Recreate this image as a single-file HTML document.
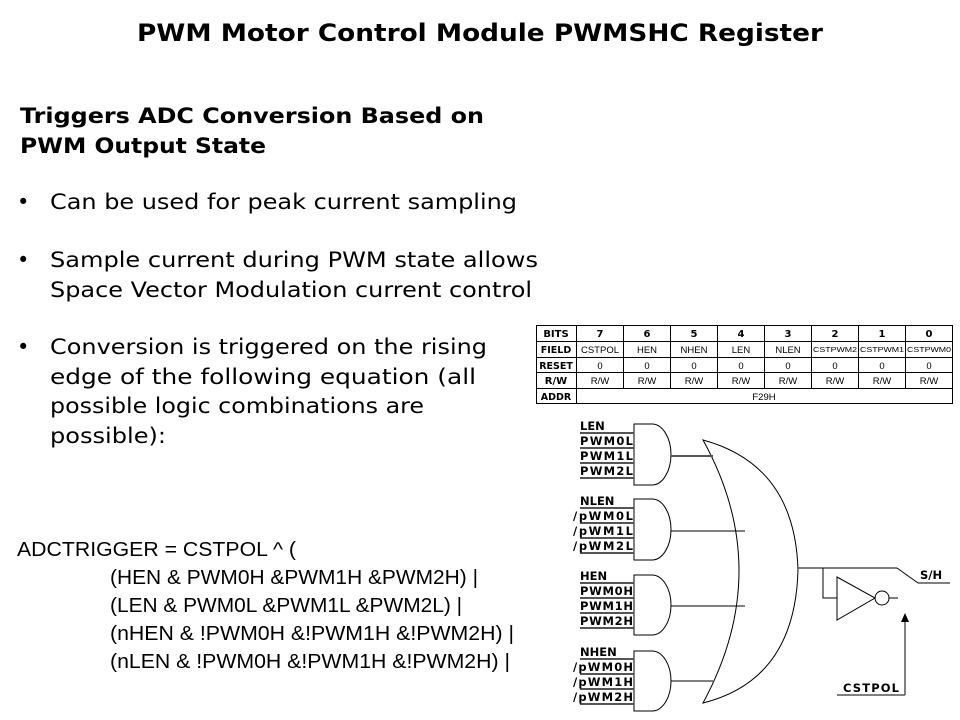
<!DOCTYPE html>
<html><head><meta charset="utf-8"><style>
html,body{margin:0;padding:0;background:#fff;}
svg{display:block;}
text{font-family:"DejaVu Sans","Liberation Sans",sans-serif;fill:#000;}
.l{font-family:"Liberation Sans",sans-serif;}
.b{font-weight:bold;}
</style></head><body>
<svg width="960" height="720" viewBox="0 0 960 720" xmlns="http://www.w3.org/2000/svg">
<text x="137" y="41" class="b" font-size="24" textLength="686" lengthAdjust="spacingAndGlyphs">PWM Motor Control Module PWMSHC Register</text>
<text x="20" y="123" class="b" font-size="21" textLength="464" lengthAdjust="spacingAndGlyphs">Triggers ADC Conversion Based on</text>
<text x="20" y="153" class="b" font-size="21" textLength="246" lengthAdjust="spacingAndGlyphs">PWM Output State</text>
<g font-size="21">
<text x="17" y="209">•</text>
<text x="50" y="209" textLength="467" lengthAdjust="spacingAndGlyphs">Can be used for peak current sampling</text>
<text x="17" y="267">•</text>
<text x="50" y="267" textLength="488" lengthAdjust="spacingAndGlyphs">Sample current during PWM state allows</text>
<text x="50" y="297" textLength="482" lengthAdjust="spacingAndGlyphs">Space Vector Modulation current control</text>
<text x="17" y="354">•</text>
<text x="50" y="354" textLength="437" lengthAdjust="spacingAndGlyphs">Conversion is triggered on the rising</text>
<text x="50" y="384" textLength="426" lengthAdjust="spacingAndGlyphs">edge of the following equation (all</text>
<text x="50" y="413" textLength="374" lengthAdjust="spacingAndGlyphs">possible logic combinations are</text>
<text x="50" y="443" textLength="116" lengthAdjust="spacingAndGlyphs">possible):</text>
</g>
<g font-size="20" class="l">
<text class="l" x="17" y="556" textLength="279" lengthAdjust="spacingAndGlyphs">ADCTRIGGER = CSTPOL ^ (</text>
<text class="l" x="110" y="584" textLength="368" lengthAdjust="spacingAndGlyphs">(HEN &amp; PWM0H &amp;PWM1H &amp;PWM2H) |</text>
<text class="l" x="110" y="612" textLength="352" lengthAdjust="spacingAndGlyphs">(LEN &amp; PWM0L &amp;PWM1L &amp;PWM2L) |</text>
<text class="l" x="110" y="640" textLength="404" lengthAdjust="spacingAndGlyphs">(nHEN &amp; !PWM0H &amp;!PWM1H &amp;!PWM2H) |</text>
<text class="l" x="110" y="668" textLength="400" lengthAdjust="spacingAndGlyphs">(nLEN &amp; !PWM0H &amp;!PWM1H &amp;!PWM2H) |</text>
</g>
<!-- register table -->
<g stroke="#000" stroke-width="1" fill="none">
<rect x="536.5" y="325.5" width="416" height="78"/>
<line x1="576.5" y1="325" x2="576.5" y2="404"/>
<line x1="536" y1="341.5" x2="952" y2="341.5"/>
<line x1="536" y1="357.5" x2="952" y2="357.5"/>
<line x1="536" y1="372.5" x2="952" y2="372.5"/>
<line x1="536" y1="388.5" x2="952" y2="388.5"/>
<line x1="623.5" y1="325" x2="623.5" y2="388"/>
<line x1="670.5" y1="325" x2="670.5" y2="388"/>
<line x1="717.5" y1="325" x2="717.5" y2="388"/>
<line x1="764.5" y1="325" x2="764.5" y2="388"/>
<line x1="811.5" y1="325" x2="811.5" y2="388"/>
<line x1="858.5" y1="325" x2="858.5" y2="388"/>
<line x1="905.5" y1="325" x2="905.5" y2="388"/>
</g>
<g font-size="10" text-anchor="middle">
<text x="556" y="337" class="b">BITS</text>
<text x="556" y="353" class="b" font-size="9.5">FIELD</text>
<text x="556" y="369" class="b" font-size="9.5">RESET</text>
<text x="556" y="384" class="b">R/W</text>
<text x="556" y="400" class="b" font-size="9.5">ADDR</text>
<g class="b"><text x="600" y="337">7</text><text x="647" y="337">6</text><text x="694" y="337">5</text><text x="741" y="337">4</text><text x="788" y="337">3</text><text x="835" y="337">2</text><text x="882" y="337">1</text><text x="929" y="337">0</text></g>
<g class="l">
<text class="l" x="600" y="353" font-size="9.5">CSTPOL</text><text class="l" x="647" y="353" font-size="9.5">HEN</text><text class="l" x="694" y="353" font-size="9.5">NHEN</text><text class="l" x="741" y="353" font-size="9.5">LEN</text><text class="l" x="788" y="353" font-size="9.5">NLEN</text>
<text class="l" x="835" y="352" font-size="7.5" textLength="44" lengthAdjust="spacingAndGlyphs">CSTPWM2</text><text class="l" x="882" y="352" font-size="7.5" textLength="44" lengthAdjust="spacingAndGlyphs">CSTPWM1</text><text class="l" x="929" y="352" font-size="7.5" textLength="44" lengthAdjust="spacingAndGlyphs">CSTPWM0</text>
</g>
<g font-size="9.5"><text class="l" x="600" y="369">0</text><text class="l" x="647" y="369">0</text><text class="l" x="694" y="369">0</text><text class="l" x="741" y="369">0</text><text class="l" x="788" y="369">0</text><text class="l" x="835" y="369">0</text><text class="l" x="882" y="369">0</text><text class="l" x="929" y="369">0</text>
<text class="l" x="600" y="384">R/W</text><text class="l" x="647" y="384">R/W</text><text class="l" x="694" y="384">R/W</text><text class="l" x="741" y="384">R/W</text><text class="l" x="788" y="384">R/W</text><text class="l" x="835" y="384">R/W</text><text class="l" x="882" y="384">R/W</text><text class="l" x="929" y="384">R/W</text>
<text class="l" x="764" y="400">F29H</text></g>
</g>
<!-- logic diagram -->
<g stroke="#000" stroke-width="1" fill="none">
<path d="M634,424 H652 A19,30.5 0 0 1 652,485 H634 Z"/>
<path d="M634,499 H652 A19,30.5 0 0 1 652,560 H634 Z"/>
<path d="M634,575 H652 A19,30 0 0 1 652,635 H634 Z"/>
<path d="M634,651 H652 A19,30 0 0 1 652,711 H634 Z"/>
<path d="M703,440 Q795,465 798,570 Q795,680 703,703 Q775,570 703,440 Z"/>
<line x1="671" y1="456" x2="713" y2="456" stroke="#555" stroke-width="2"/>
<line x1="671" y1="531" x2="745" y2="531"/>
<line x1="671" y1="606" x2="745" y2="606"/>
<line x1="671" y1="681" x2="713" y2="681"/>
<line x1="798" y1="568" x2="897" y2="568" stroke="#555" stroke-width="1.5"/>
<line x1="897" y1="568" x2="918" y2="583"/>
<line x1="918" y1="583" x2="950" y2="583" stroke="#555" stroke-width="1.5"/>
<path d="M823,568 V598 H837"/>
<path d="M837,577 L875,598 L837,620 Z"/>
<circle cx="882" cy="598" r="7"/>
<line x1="889" y1="598" x2="898" y2="598"/>
<line x1="905" y1="695" x2="905" y2="622"/>
<line x1="837" y1="695" x2="905" y2="695" stroke="#555" stroke-width="1.5"/>
</g>
<path d="M901,622 L905,613 L909,622 Z" fill="#000"/>
<g stroke="#555" stroke-width="2">
<line x1="580" y1="433" x2="634" y2="433"/><line x1="580" y1="448" x2="634" y2="448"/><line x1="580" y1="463" x2="634" y2="463"/><line x1="580" y1="478" x2="634" y2="478"/>
<line x1="580" y1="508" x2="634" y2="508"/><line x1="580" y1="523" x2="634" y2="523"/><line x1="580" y1="538" x2="634" y2="538"/><line x1="580" y1="553" x2="634" y2="553"/>
<line x1="580" y1="583" x2="634" y2="583"/><line x1="580" y1="598" x2="634" y2="598"/><line x1="580" y1="613" x2="634" y2="613"/><line x1="580" y1="628" x2="634" y2="628"/>
<line x1="580" y1="659" x2="634" y2="659"/><line x1="580" y1="674" x2="634" y2="674"/><line x1="580" y1="689" x2="634" y2="689"/><line x1="580" y1="704" x2="634" y2="704"/>
</g>
<g font-size="11.5" class="b">
<text x="580" y="430">LEN</text><text x="580" y="445" textLength="53">PWM0L</text><text x="580" y="460" textLength="53">PWM1L</text><text x="580" y="475" textLength="53">PWM2L</text>
<text x="580" y="505">NLEN</text><text x="573" y="520" textLength="60">/pWM0L</text><text x="573" y="535" textLength="60">/pWM1L</text><text x="573" y="550" textLength="60">/pWM2L</text>
<text x="580" y="580">HEN</text><text x="580" y="595" textLength="53">PWM0H</text><text x="580" y="610" textLength="53">PWM1H</text><text x="580" y="625" textLength="53">PWM2H</text>
<text x="580" y="656">NHEN</text><text x="573" y="671" textLength="60">/pWM0H</text><text x="573" y="686" textLength="60">/pWM1H</text><text x="573" y="701" textLength="60">/pWM2H</text>
<text x="920" y="579">S/H</text>
<text x="843" y="692" textLength="56">CSTPOL</text>
</g>
</svg>
</body></html>
